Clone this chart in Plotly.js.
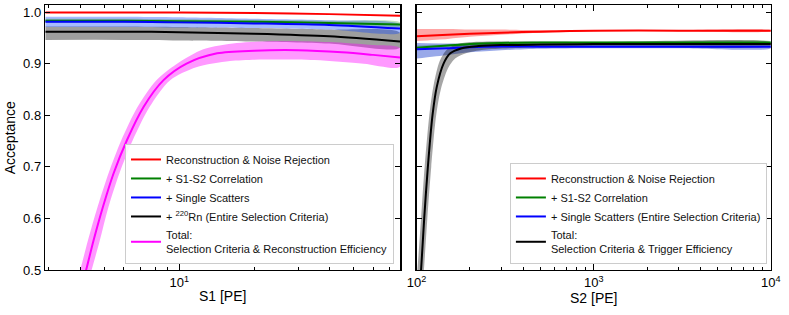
<!DOCTYPE html>
<html>
<head>
<meta charset="utf-8">
<script src="https://cdn.plot.ly/plotly-3.0.1.min.js"></script>
<style>html,body{margin:0;padding:0;background:#fff;}#chart{width:789px;height:315px;}</style>
</head>
<body>
<div id="chart"></div>
<script>
// ---------- Left panel: acceptance vs S1 [PE] ----------
const s1Flat = [2.9, 6, 10, 20, 40, 77];
const accRedS1 = [0.999, 0.999, 0.999, 0.998, 0.996, 0.993];
const accGreenS1 = [0.983, 0.983, 0.982, 0.981, 0.979, 0.976];
const greenHiS1 = [0.987, 0.987, 0.986, 0.985, 0.983, 0.980];
const greenLoS1 = [0.979, 0.979, 0.978, 0.977, 0.975, 0.972];
const accBlueS1 = [0.981, 0.981, 0.980, 0.978, 0.975, 0.968];
const blueHiS1 = [0.991, 0.991, 0.990, 0.987, 0.984, 0.976];
const blueLoS1 = [0.971, 0.971, 0.970, 0.969, 0.966, 0.960];
const accBlackS1 = [0.962, 0.962, 0.961, 0.958, 0.953, 0.943];
const grayHiS1 = [0.972, 0.972, 0.971, 0.969, 0.966, 0.960];
const grayLoS1 = [0.946, 0.946, 0.945, 0.943, 0.939, 0.931];

const s1Mag = [4.0, 4.23, 4.53, 4.94, 5.45, 6.16, 7.19, 8.65, 10.7, 14.2, 20, 30, 45, 60, 77];
const accMag = [0.46, 0.5, 0.557, 0.622, 0.687, 0.751, 0.816, 0.868, 0.900, 0.920, 0.925, 0.926, 0.922, 0.917, 0.912];
const s1MagHi = [3.8, 4.0, 4.3, 4.7, 5.2, 5.85, 6.8, 8.1, 9.8, 12.5, 17, 25, 40, 60, 77];
const accMagHi = [0.47, 0.5, 0.557, 0.622, 0.687, 0.751, 0.816, 0.868, 0.900, 0.928, 0.940, 0.944, 0.942, 0.936, 0.930];
const s1MagLo = [4.2, 4.45, 4.8, 5.2, 5.75, 6.5, 7.6, 9.2, 11.7, 16, 22, 35, 55, 77];
const accMagLo = [0.46, 0.5, 0.557, 0.622, 0.687, 0.751, 0.816, 0.868, 0.893, 0.905, 0.908, 0.907, 0.900, 0.894];

// ---------- Right panel: acceptance vs S2 [PE] ----------
const s2Flat = [100, 150, 200, 300, 500, 1000, 3000, 10000];
const accRedS2 = [0.953, 0.956, 0.958, 0.960, 0.962, 0.964, 0.964, 0.964];
const redHiS2 = [0.967, 0.967, 0.966, 0.966, 0.965, 0.965, 0.965, 0.965];
const redLoS2 = [0.944, 0.948, 0.952, 0.956, 0.960, 0.963, 0.963, 0.963];
const accGreenS2 = [0.931, 0.935, 0.938, 0.940, 0.941, 0.941, 0.941, 0.941];
const greenHiS2 = [0.935, 0.938, 0.941, 0.943, 0.943, 0.943, 0.943, 0.943];
const greenLoS2 = [0.927, 0.932, 0.935, 0.937, 0.939, 0.939, 0.939, 0.939];
const accBlueS2 = [0.928, 0.930, 0.932, 0.933, 0.933, 0.933, 0.933, 0.933];
const blueHiS2 = [0.940, 0.939, 0.938, 0.937, 0.936, 0.936, 0.936, 0.936];
const blueLoS2 = [0.910, 0.917, 0.922, 0.926, 0.929, 0.930, 0.930, 0.930];

const s2Black = [104, 106, 110.4, 115.8, 123, 130, 142, 155, 180, 224, 300, 500, 1000, 10000];
const accBlackS2 = [0.47, 0.5, 0.6, 0.7, 0.8, 0.855, 0.9, 0.92, 0.930, 0.934, 0.936, 0.937, 0.938, 0.938];
const s2GrayHi = [99, 101, 106, 111, 118, 125, 135, 148, 170, 210, 300, 1000, 10000];
const accGrayHi = [0.47, 0.5, 0.6, 0.7, 0.8, 0.86, 0.905, 0.927, 0.938, 0.942, 0.943, 0.942, 0.941];
const s2GrayLo = [108, 110, 115, 121, 129, 137, 150, 165, 190, 240, 400, 1000, 10000];
const accGrayLo = [0.47, 0.5, 0.6, 0.7, 0.8, 0.85, 0.89, 0.91, 0.92, 0.927, 0.931, 0.934, 0.935];

// ---------- labels ----------
const yTicks = [0.5, 0.6, 0.7, 0.8, 0.9, 1.0];
const s1Major = [10], s1MajorText = ['10<sup>1</sup>'];
const s1Minor = [3, 4, 5, 6, 7, 8, 9, 20, 30, 40, 50, 60, 70];
const s2Major = [100, 1000, 10000], s2MajorText = ['10<sup>2</sup>', '10<sup>3</sup>', '10<sup>4</sup>'];
const s2Minor = [200, 300, 400, 500, 600, 700, 800, 900, 2000, 3000, 4000, 5000, 6000, 7000, 8000, 9000];
const namesS1 = ['Reconstruction & Noise Rejection', '+ S1-S2 Correlation', '+ Single Scatters',
  '+ <sup>220</sup>Rn (Entire Selection Criteria)', 'Total:<br>Selection Criteria & Reconstruction Efficiency'];
const namesS2 = ['Reconstruction & Noise Rejection', '+ S1-S2 Correlation',
  '+ Single Scatters (Entire Selection Criteria)', 'Total:<br>Selection Criteria & Trigger Efficiency'];

function band(xHi, yHi, xLo, yLo, color, xa, ya) {
  return {x: xHi.concat(xLo.slice().reverse()), y: yHi.concat(yLo.slice().reverse()),
    xaxis: xa, yaxis: ya, mode: 'lines', fill: 'toself', fillcolor: color,
    line: {width: 0, shape: 'spline', smoothing: 0.8}, showlegend: false, hoverinfo: 'skip'};
}
function line(x, y, color, name, xa, ya, leg) {
  return {x: x, y: y, xaxis: xa, yaxis: ya, mode: 'lines', name: name, legend: leg,
    line: {color: color, width: 2, shape: 'spline', smoothing: 0.8}};
}

const traces = [
  band(s1Flat, grayHiS1, s1Flat, grayLoS1, 'rgba(0,0,0,0.38)', 'x', 'y'),
  band(s1Flat, blueHiS1, s1Flat, blueLoS1, 'rgba(0,60,255,0.35)', 'x', 'y'),
  band(s1Flat, greenHiS1, s1Flat, greenLoS1, 'rgba(0,128,0,0.25)', 'x', 'y'),
  band(s1MagHi, accMagHi, s1MagLo, accMagLo, 'rgba(255,0,255,0.4)', 'x', 'y'),
  line(s1Flat, accRedS1, '#ff0000', namesS1[0], 'x', 'y', 'legend'),
  line(s1Flat, accGreenS1, '#008000', namesS1[1], 'x', 'y', 'legend'),
  line(s1Flat, accBlueS1, '#0000ff', namesS1[2], 'x', 'y', 'legend'),
  line(s1Flat, accBlackS1, '#000000', namesS1[3], 'x', 'y', 'legend'),
  line(s1Mag, accMag, '#ff00ff', namesS1[4], 'x', 'y', 'legend'),

  band(s2Flat, redHiS2, s2Flat, redLoS2, 'rgba(255,0,0,0.35)', 'x2', 'y2'),
  band(s2Flat, greenHiS2, s2Flat, greenLoS2, 'rgba(0,128,0,0.25)', 'x2', 'y2'),
  band(s2Flat, blueHiS2, s2Flat, blueLoS2, 'rgba(0,40,200,0.4)', 'x2', 'y2'),
  band(s2GrayHi, accGrayHi, s2GrayLo, accGrayLo, 'rgba(0,0,0,0.35)', 'x2', 'y2'),
  line(s2Flat, accRedS2, '#ff0000', namesS2[0], 'x2', 'y2', 'legend2'),
  line(s2Flat, accGreenS2, '#008000', namesS2[1], 'x2', 'y2', 'legend2'),
  line(s2Flat, accBlueS2, '#0000ff', namesS2[2], 'x2', 'y2', 'legend2'),
  line(s2Black, accBlackS2, '#000000', namesS2[3], 'x2', 'y2', 'legend2')
];

const axisCommon = {showline: true, linecolor: 'black', linewidth: 1.5, mirror: 'allticks',
  ticks: 'inside', tickcolor: 'black', tickwidth: 1, showgrid: false, zeroline: false, automargin: false};
const yRange = [0.5, 1.013];
const legendCommon = {bgcolor: 'rgba(255,255,255,0.85)', bordercolor: '#cccccc', borderwidth: 1,
  font: {size: 11, color: '#111'}, xanchor: 'right', yanchor: 'bottom', tracegroupgap: 0, itemwidth: 30};

const layout = {
  width: 789, height: 315, margin: {l: 0, r: 0, t: 0, b: 0},
  paper_bgcolor: 'white', plot_bgcolor: 'white',
  font: {family: 'Liberation Sans, Arial, sans-serif', size: 13, color: 'black'},
  showlegend: true,
  xaxis: Object.assign({}, axisCommon, {type: 'log', domain: [0.0574, 0.507],
    range: [Math.log10(2.9), Math.log10(77)], tickmode: 'array', tickvals: s1Major, ticktext: s1MajorText,
    ticklen: 6, anchor: 'y',
    minor: {tickmode: 'array', tickvals: s1Minor, ticks: 'inside', ticklen: 3, tickcolor: 'black', showgrid: false},
    title: {text: 'S1 [PE]', standoff: 2, font: {size: 14}}}),
  yaxis: Object.assign({}, axisCommon, {domain: [0.1429, 0.983], range: yRange, tickmode: 'array',
    tickvals: yTicks, tickformat: '.1f', ticklen: 5, anchor: 'x',
    title: {text: 'Acceptance', standoff: 4, font: {size: 14}}}),
  xaxis2: Object.assign({}, axisCommon, {type: 'log', domain: [0.528, 0.977], range: [2, 4],
    tickmode: 'array', tickvals: s2Major, ticktext: s2MajorText, ticklen: 6, anchor: 'y2',
    minor: {tickmode: 'array', tickvals: s2Minor, ticks: 'inside', ticklen: 3, tickcolor: 'black', showgrid: false},
    title: {text: 'S2 [PE]', standoff: 2, font: {size: 14}}}),
  yaxis2: Object.assign({}, axisCommon, {domain: [0.1429, 0.983], range: yRange, tickmode: 'array',
    tickvals: yTicks, ticklen: 5, showticklabels: false, anchor: 'x2'}),
  legend: Object.assign({}, legendCommon, {x: 0.4994, y: 0.162}),
  legend2: Object.assign({}, legendCommon, {x: 0.972, y: 0.162})
};

Plotly.newPlot('chart', traces, layout, {staticPlot: true, displayModeBar: false});
</script>
</body>
</html>
